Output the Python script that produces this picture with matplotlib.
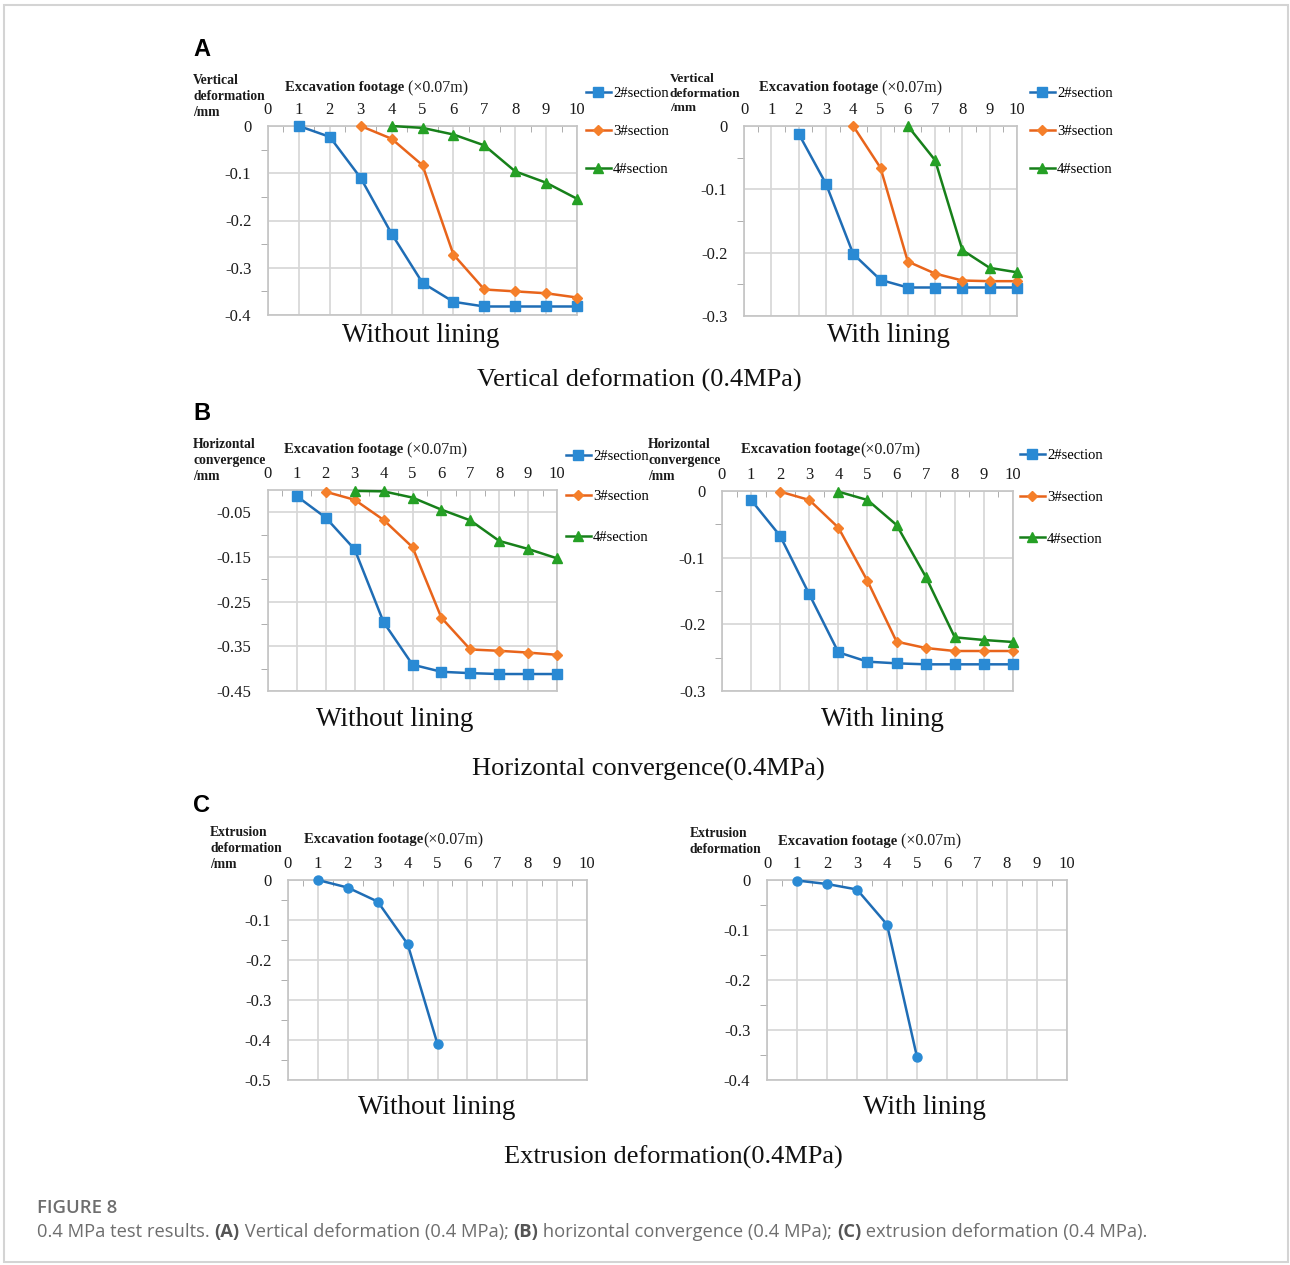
import matplotlib
matplotlib.use('Agg')
import matplotlib.pyplot as plt
import numpy as np
from matplotlib.patches import Rectangle
from matplotlib.ticker import FixedLocator

W, H = 1290, 1265
SERIF = ['Liberation Serif', 'DejaVu Serif']
SANS = ['Open Sans', 'Liberation Sans', 'DejaVu Sans']

# ---------------- data ----------------
footage_ticks = list(range(0, 11))
series_labels = ['2#section', '3#section', '4#section']

# (A) Vertical deformation, without lining
vert_nolin_x2 = [1, 2, 3, 4, 5, 6, 7, 8, 9, 10]
vert_nolin_y2 = [0, -0.023, -0.110, -0.228, -0.332, -0.372, -0.382, -0.382, -0.382, -0.382]
vert_nolin_x3 = [3, 4, 5, 6, 7, 8, 9, 10]
vert_nolin_y3 = [0, -0.027, -0.083, -0.272, -0.346, -0.350, -0.354, -0.363]
vert_nolin_x4 = [4, 5, 6, 7, 8, 9, 10]
vert_nolin_y4 = [0, -0.004, -0.018, -0.041, -0.096, -0.120, -0.154]
# (A) Vertical deformation, with lining
vert_lin_x2 = [2, 3, 4, 5, 6, 7, 8, 9, 10]
vert_lin_y2 = [-0.012, -0.091, -0.202, -0.243, -0.255, -0.255, -0.255, -0.255, -0.255]
vert_lin_x3 = [4, 5, 6, 7, 8, 9, 10]
vert_lin_y3 = [0, -0.066, -0.214, -0.233, -0.244, -0.245, -0.245]
vert_lin_x4 = [6, 7, 8, 9, 10]
vert_lin_y4 = [0, -0.054, -0.196, -0.224, -0.231]

# (B) Horizontal convergence, without lining
hor_nolin_x2 = [1, 2, 3, 4, 5, 6, 7, 8, 9, 10]
hor_nolin_y2 = [-0.014, -0.062, -0.133, -0.296, -0.391, -0.407, -0.410, -0.412, -0.412, -0.412]
hor_nolin_x3 = [2, 3, 4, 5, 6, 7, 8, 9, 10]
hor_nolin_y3 = [-0.004, -0.022, -0.067, -0.128, -0.286, -0.357, -0.360, -0.364, -0.369]
hor_nolin_x4 = [3, 4, 5, 6, 7, 8, 9, 10]
hor_nolin_y4 = [-0.002, -0.003, -0.017, -0.044, -0.068, -0.114, -0.132, -0.153]
# (B) Horizontal convergence, with lining
hor_lin_x2 = [1, 2, 3, 4, 5, 6, 7, 8, 9, 10]
hor_lin_y2 = [-0.0135, -0.0675, -0.155, -0.242, -0.256, -0.2585, -0.260, -0.260, -0.260, -0.260]
hor_lin_x3 = [2, 3, 4, 5, 6, 7, 8, 9, 10]
hor_lin_y3 = [-0.001, -0.0135, -0.055, -0.135, -0.226, -0.2355, -0.240, -0.240, -0.240]
hor_lin_x4 = [4, 5, 6, 7, 8, 9, 10]
hor_lin_y4 = [-0.001, -0.0135, -0.051, -0.1285, -0.2195, -0.2235, -0.2265]

# (C) Extrusion deformation
ext_nolin_x = [1, 2, 3, 4, 5]
ext_nolin_y = [0, -0.019, -0.054, -0.160, -0.410]
ext_lin_x = [1, 2, 3, 4, 5]
ext_lin_y = [-0.001, -0.008, -0.019, -0.089, -0.354]

# ---------------- styles ----------------
LINE_C = ['#1f6db5', '#e8641b', '#17801a']
MARK_C = ['#2a8ad4', '#f57f2a', '#25a025']
MARKERS = ['s', 'D', '^']
MSIZE = [6.5, 5.0, 7.5]

fig = plt.figure(figsize=(W / 100, H / 100), dpi=100)
renderer = fig.canvas.get_renderer()

# outer border
fig.patches.append(Rectangle((4 / W, 1 - 1262 / H), (1288 - 4) / W, (1262 - 5) / H,
                             transform=fig.transFigure, fill=False,
                             edgecolor='#d4d4d4', lw=1.5))


def fx(x):
    return x / W


def fy(y):
    return 1 - y / H


def rich(x, y, parts, va='center'):
    """Draw consecutive text parts starting at pixel (x, y)."""
    cur = x
    for txt, kw in parts:
        t = fig.text(fx(cur), fy(y), txt, ha='left', va=va, **kw)
        bb = t.get_window_extent(renderer=renderer)
        cur += bb.width
    return cur


def make_axes(box, ymin, yticks, yminor):
    x0, y0, x1, y1 = box
    ax = fig.add_axes([fx(x0), fy(y1), (x1 - x0) / W, (y1 - y0) / H])
    ax.set_xlim(0, 10)
    ax.set_ylim(ymin, 0)
    ax.xaxis.set_ticks_position('top')
    ax.xaxis.set_major_locator(FixedLocator(footage_ticks))
    ax.xaxis.set_minor_locator(FixedLocator(np.arange(0.5, 10, 1.0)))
    ax.set_xticklabels([str(v) for v in footage_ticks], fontfamily=SERIF, fontsize=12, color='#1a1a1a')
    ax.yaxis.set_major_locator(FixedLocator(yticks))
    ax.yaxis.set_minor_locator(FixedLocator(yminor))
    ax.set_yticklabels([('%g' % v) for v in yticks], fontfamily=SERIF, fontsize=12, color='#1a1a1a')
    ax.tick_params(axis='x', which='major', length=0, pad=6)
    ax.tick_params(axis='x', which='minor', length=4, direction='in', color='#a0a0a0', top=True, bottom=False)
    ax.tick_params(axis='y', which='major', length=0, pad=12)
    ax.tick_params(axis='y', which='minor', length=5, direction='out', color='#a0a0a0')
    ax.grid(True, which='major', color='#d6d6d6', lw=1.2)
    for sp in ax.spines.values():
        sp.set_color('#c4c4c4')
        sp.set_linewidth(1.2)
    ax.set_axisbelow(True)
    return ax


def plot_three(ax, xs, ys, legend_xy, ls=1.65):
    handles = []
    for i in range(3):
        ln, = ax.plot(xs[i], ys[i], color=LINE_C[i], lw=1.8, marker=MARKERS[i],
                      ms=MSIZE[i], mfc=MARK_C[i], mec=MARK_C[i], clip_on=False, zorder=3)
        handles.append(ln)
    lx, ly = legend_xy
    ax.legend(handles, series_labels, loc='upper left',
              bbox_to_anchor=(fx(lx), fy(ly)), bbox_transform=fig.transFigure,
              frameon=False, handlelength=1.7, handletextpad=0.15, borderpad=0,
              borderaxespad=0, labelspacing=ls, prop={'family': SERIF, 'size': 10.5})


def ylabel_block(x, y, text, size=9.8):
    fig.text(fx(x), fy(y), text, ha='left', va='top', fontfamily=SERIF,
             fontweight='bold', fontsize=size, linespacing=1.3, color='#1a1a1a')


def xlabel_block(x, y, sep=' '):
    rich(x, y, [('Excavation footage', dict(fontfamily=SERIF, fontweight='bold', fontsize=10.5, color='#1a1a1a')),
                (sep + '(\u00d70.07m)', dict(fontfamily=SERIF, fontsize=11.5, color='#1a1a1a'))])


def title_text(x, y, s, size=19.5):
    fig.text(fx(x), fy(y), s, ha='center', va='center', fontfamily=SERIF, fontsize=size, color='#111111')


# ---------------- Panel A ----------------
fig.text(fx(193), fy(49), 'A', ha='left', va='center', fontfamily=['Liberation Sans', 'DejaVu Sans'],
         fontweight='bold', fontsize=17)

axA1 = make_axes((268, 126, 577, 315), -0.4, [0, -0.1, -0.2, -0.3, -0.4], [-0.05, -0.15, -0.25, -0.35])
plot_three(axA1, [vert_nolin_x2, vert_nolin_x3, vert_nolin_x4],
           [vert_nolin_y2, vert_nolin_y3, vert_nolin_y4], (586, 86.5), ls=1.72)
ylabel_block(193, 74, 'Vertical\ndeformation\n/mm')
xlabel_block(285, 88)
title_text(421, 336, 'Without lining')

axA2 = make_axes((744, 126, 1017, 316), -0.3, [0, -0.1, -0.2, -0.3], [-0.05, -0.15, -0.25])
plot_three(axA2, [vert_lin_x2, vert_lin_x3, vert_lin_x4],
           [vert_lin_y2, vert_lin_y3, vert_lin_y4], (1030, 86.5), ls=1.72)
ylabel_block(670, 73, 'Vertical\ndeformation\n/mm', size=9.6)
xlabel_block(759, 88)
title_text(888, 336, 'With lining')

title_text(639, 380, 'Vertical deformation (0.4MPa)', 19)

# ---------------- Panel B ----------------
fig.text(fx(193), fy(413), 'B', ha='left', va='center', fontfamily=['Liberation Sans', 'DejaVu Sans'],
         fontweight='bold', fontsize=17)

axB1 = make_axes((268, 490, 557, 691), -0.45, [-0.05, -0.15, -0.25, -0.35, -0.45], [-0.1, -0.2, -0.3, -0.4])
plot_three(axB1, [hor_nolin_x2, hor_nolin_x3, hor_nolin_x4],
           [hor_nolin_y2, hor_nolin_y3, hor_nolin_y4], (566, 449.5), ls=1.88)
ylabel_block(193, 438, 'Horizontal\nconvergence\n/mm')
xlabel_block(284, 450)
title_text(395, 720, 'Without lining')

axB2 = make_axes((722, 491, 1013, 691), -0.3, [0, -0.1, -0.2, -0.3], [-0.05, -0.15, -0.25])
plot_three(axB2, [hor_lin_x2, hor_lin_x3, hor_lin_x4],
           [hor_lin_y2, hor_lin_y3, hor_lin_y4], (1020, 448.5), ls=1.97)
ylabel_block(648, 438, 'Horizontal\nconvergence\n/mm')
xlabel_block(741, 450, sep='')
title_text(882, 720, 'With lining')

title_text(648, 769, 'Horizontal convergence(0.4MPa)', 19)

# ---------------- Panel C ----------------
fig.text(fx(193), fy(806), 'C', ha='left', va='center', fontfamily=['Liberation Sans', 'DejaVu Sans'],
         fontweight='bold', fontsize=17)

axC1 = make_axes((288, 880, 587, 1080), -0.5, [0, -0.1, -0.2, -0.3, -0.4, -0.5],
                 [-0.05, -0.15, -0.25, -0.35, -0.45])
axC1.plot(ext_nolin_x, ext_nolin_y, color='#1f6db5', lw=1.8, marker='o', ms=6.5,
          mfc='#2a8ad4', mec='#2a8ad4', clip_on=False, zorder=3)
ylabel_block(210, 826, 'Extrusion\ndeformation\n/mm')
xlabel_block(304, 840, sep='')
title_text(437, 1108, 'Without lining')

axC2 = make_axes((767, 880, 1067, 1080), -0.4, [0, -0.1, -0.2, -0.3, -0.4], [-0.05, -0.15, -0.25, -0.35])
axC2.plot(ext_lin_x, ext_lin_y, color='#1f6db5', lw=1.8, marker='o', ms=6.5,
          mfc='#2a8ad4', mec='#2a8ad4', clip_on=False, zorder=3)
ylabel_block(690, 827, 'Extrusion\ndeformation')
xlabel_block(778, 841, sep=' ')
title_text(924, 1108, 'With lining')

title_text(673, 1157, 'Extrusion deformation(0.4MPa)', 19)

# ---------------- caption ----------------
fig.text(fx(37), fy(1208), 'FIGURE 8', ha='left', va='center', fontfamily=SANS,
         fontweight='semibold', fontsize=13.3, color='#6e6e6e')
reg = dict(fontfamily=SANS, fontsize=13.25, color='#6e6e6e')
bld = dict(fontfamily=SANS, fontsize=13.25, color='#555555', fontweight='bold')
rich(37, 1232, [('0.4 MPa test results. ', reg), ('(A)', bld), (' Vertical deformation (0.4 MPa); ', reg),
                ('(B)', bld), (' horizontal convergence (0.4 MPa); ', reg), ('(C)', bld),
                (' extrusion deformation (0.4 MPa).', reg)])

fig.savefig('out.png', dpi=100)
